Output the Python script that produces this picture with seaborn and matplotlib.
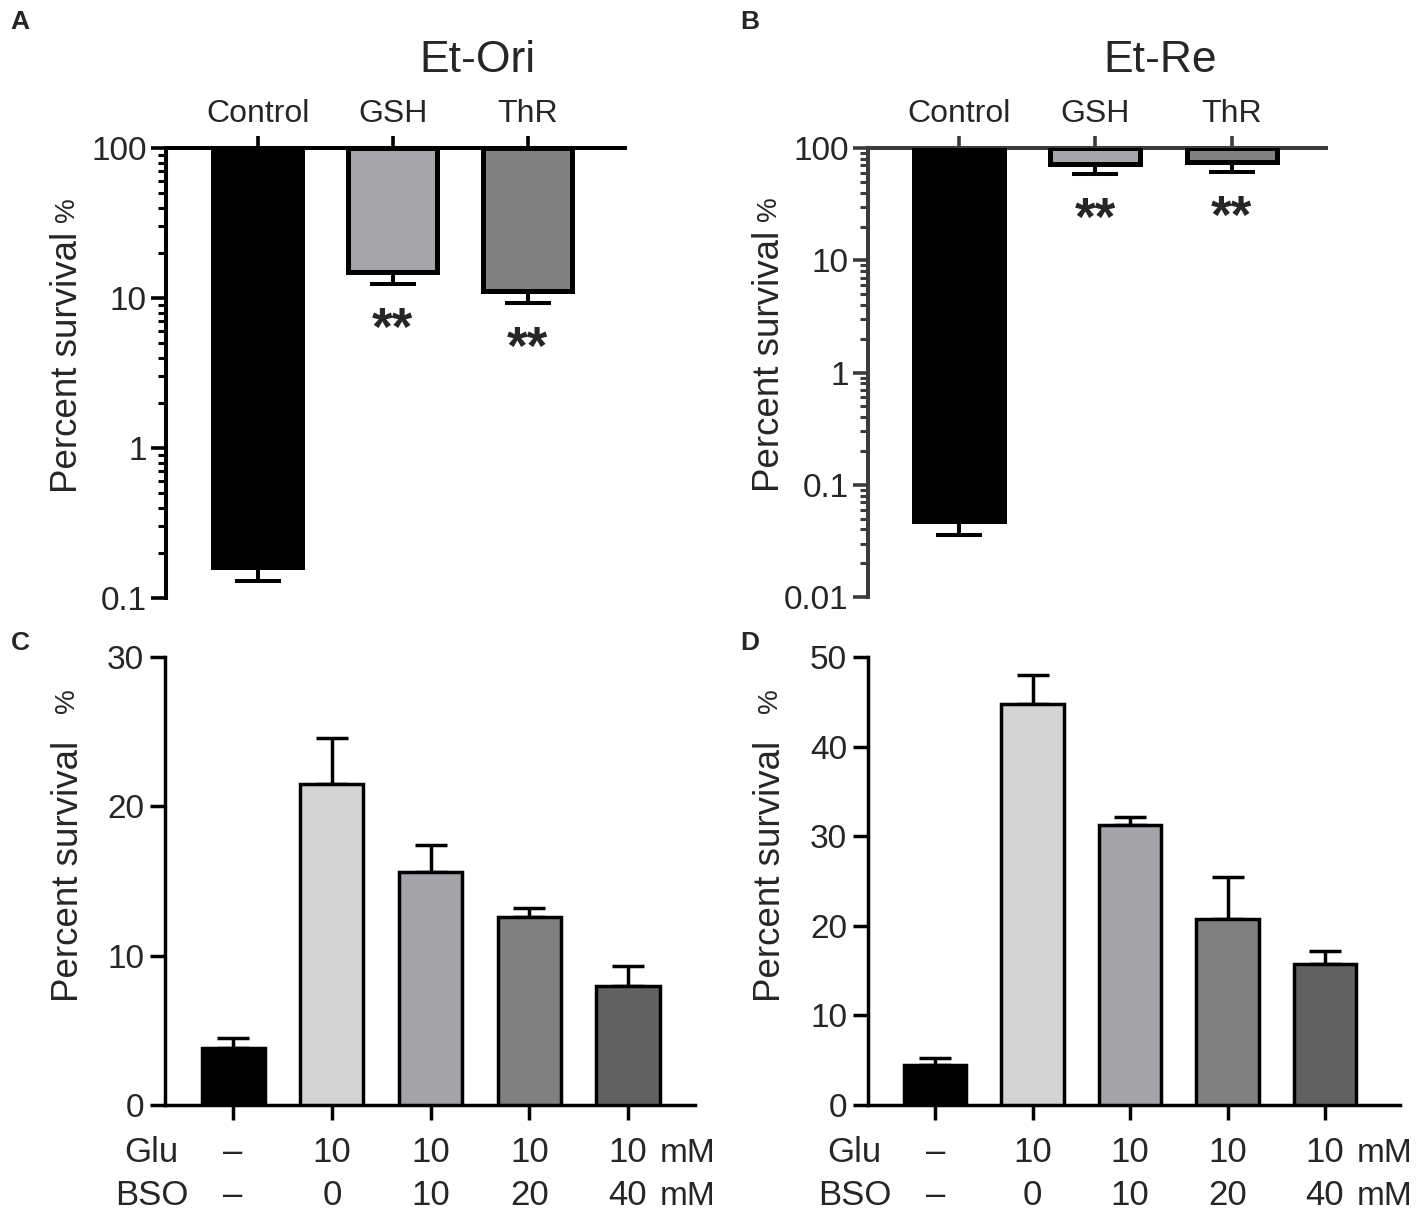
import numpy as np
import pandas as pd
import matplotlib
matplotlib.use("Agg")
import matplotlib.pyplot as plt
import seaborn as sns
from matplotlib.ticker import FixedLocator, NullFormatter, LogLocator
from matplotlib.transforms import blended_transform_factory

# ---- data ----
top_groups = ["Control", "GSH", "ThR"]
ori_mean = [0.16, 14.8, 11.2]
ori_low = [0.13, 12.4, 9.3]
re_mean = [0.048, 72.0, 75.0]
re_low = [0.036, 59.0, 61.0]
top_colors = ["#000000", "#a4a4a9", "#808080"]

glu = ["–", "10", "10", "10", "10"]
bso = ["–", "0", "10", "20", "40"]
c_mean = [3.8, 21.5, 15.6, 12.6, 8.0]
c_high = [4.5, 24.6, 17.4, 13.2, 9.3]
d_mean = [4.5, 44.8, 31.2, 20.8, 15.7]
d_high = [5.2, 48.0, 32.2, 25.4, 17.2]
bottom_colors = ["#000000", "#d4d4d4", "#a3a3a8", "#808080", "#616161"]

sns.set_style("ticks")
plt.rcParams["font.family"] = ["Liberation Sans", "DejaVu Sans"]

fig = plt.figure(figsize=(14.18, 12.21), dpi=100)


def add_ylabel(ax, x, y, gap):
    lab = ax.text(x, y, "Percent survival", rotation=90, ha="center", va="center",
                  fontsize=26.5, transform=ax.transAxes)
    ax.annotate("%", xy=(1, 1), xycoords=lab, xytext=(-4, gap), textcoords="offset points",
                rotation=90, ha="right", va="bottom", fontsize=20)


def log_panel(rect, mean, low, ylim, majors, major_labels, axis_color, xlim):
    ax = fig.add_axes(rect)
    df = pd.DataFrame({"group": top_groups, "drop": np.array(mean) - 100})
    # bars hang down from the 100 % line
    sns.barplot(data=df, x="group", y="drop", hue="group", palette=top_colors,
                legend=False, saturation=1, width=0.66, bottom=100,
                edgecolor="black", linewidth=3.6, errorbar=None, zorder=3, ax=ax)
    x = np.arange(len(top_groups))
    m = np.array(mean)
    ax.errorbar(x, m, yerr=[m - np.array(low), np.zeros_like(m)], fmt="none",
                ecolor="black", elinewidth=2.9, capsize=16.5, capthick=2.9, zorder=2)
    ax.set_yscale("log")
    ax.set_ylim(*ylim)
    ax.set_xlim(*xlim)
    ax.yaxis.set_major_locator(FixedLocator(majors))
    ax.set_yticklabels(major_labels)
    ax.yaxis.set_minor_locator(LogLocator(base=10, subs=np.arange(2, 10)))
    ax.yaxis.set_minor_formatter(NullFormatter())
    ax.xaxis.tick_top()
    ax.set_xticks(x)
    ax.set_xticklabels(top_groups)
    ax.set_xlabel("")
    ax.set_ylabel("")
    for side in ["right", "bottom"]:
        ax.spines[side].set_visible(False)
    for side in ["left", "top"]:
        ax.spines[side].set_linewidth(2.9)
        ax.spines[side].set_color(axis_color)
    ax.tick_params(axis="y", which="major", length=11, width=2.6, color=axis_color,
                   labelsize=24, pad=3, direction="out")
    ax.tick_params(axis="y", which="minor", length=6, width=2.2, color=axis_color,
                   direction="out")
    ax.tick_params(axis="x", which="major", length=8.5, width=2.6, color=axis_color,
                   labelsize=23, pad=5, direction="out")
    # significance marks under the treated bars
    for i in (1, 2):
        ax.annotate("**", xy=(i, low[i]), xytext=(0, -44), textcoords="offset points",
                    ha="center", va="baseline", fontsize=38, fontweight="bold")
    add_ylabel(ax, -0.214, 0.524, 7)
    return ax


def linear_panel(rect, mean, high, ymax, step, xlim, mm_x, gap):
    ax = fig.add_axes(rect)
    labels = [f"{g}\n{b}" for g, b in zip(glu, bso)]
    df = pd.DataFrame({"cond": labels, "val": mean})
    sns.barplot(data=df, x="cond", y="val", hue="cond", palette=bottom_colors,
                legend=False, saturation=1, width=0.64, edgecolor="black",
                linewidth=2.5, errorbar=None, zorder=3, ax=ax)
    x = np.arange(len(labels))
    m = np.array(mean)
    ax.errorbar(x, m, yerr=[np.zeros_like(m), np.array(high) - m], fmt="none",
                ecolor="black", elinewidth=2.5, capsize=11.5, capthick=2.5, zorder=2)
    ax.set_ylim(0, ymax)
    ax.set_xlim(*xlim)
    ax.set_yticks(np.arange(0, ymax + 1, step))
    ax.set_xticks(x)
    ax.set_xticklabels([])
    ax.set_xlabel("")
    ax.set_ylabel("")
    for side in ["right", "top"]:
        ax.spines[side].set_visible(False)
    for side in ["left", "bottom"]:
        ax.spines[side].set_linewidth(2.5)
        ax.spines[side].set_color("black")
    ax.tick_params(axis="both", length=11, width=2.5, color="black", direction="out")
    ax.tick_params(axis="y", labelsize=24, pad=4)
    # two rows of treatment labels under the bars
    tr = blended_transform_factory(ax.transData, ax.transAxes)
    for i in x:
        ax.text(i, -0.127, glu[i], transform=tr, ha="center", va="baseline", fontsize=25)
        ax.text(i, -0.223, bso[i], transform=tr, ha="center", va="baseline", fontsize=25)
    ax.text(-0.025, -0.127, "Glu", transform=ax.transAxes, ha="center", va="baseline", fontsize=25)
    ax.text(-0.025, -0.223, "BSO", transform=ax.transAxes, ha="center", va="baseline", fontsize=25)
    ax.text(mm_x, -0.127, "mM", transform=ax.transAxes, ha="left", va="baseline", fontsize=24)
    ax.text(mm_x, -0.223, "mM", transform=ax.transAxes, ha="left", va="baseline", fontsize=24)
    add_ylabel(ax, -0.183, 0.522, gap)
    return ax


log_panel([0.1171, 0.5102, 0.3237, 0.3686], ori_mean, ori_low, (0.1, 100),
          [0.1, 1, 10, 100], ["0.1", "1", "10", "100"], "black", (-0.68, 2.72))
log_panel([0.6121, 0.5110, 0.3230, 0.3677], re_mean, re_low, (0.01, 100),
          [0.01, 0.1, 1, 10, 100], ["0.01", "0.1", "1", "10", "100"], "#3c3c3c",
          (-0.667, 2.69))
linear_panel([0.1164, 0.0950, 0.3738, 0.3669], c_mean, c_high, 30, 10, (-0.69, 4.68), 0.934, 20)
linear_panel([0.6121, 0.0950, 0.3752, 0.3669], d_mean, d_high, 50, 10, (-0.69, 4.77), 0.919, 20)

fig.text(477 / 1418, 1 - 60 / 1221, "Et-Ori", ha="center", va="center", fontsize=32)
fig.text(1160 / 1418, 1 - 60 / 1221, "Et-Re", ha="center", va="center", fontsize=32)
for letter, px, py in [("A", 20, 22), ("B", 750, 22), ("C", 20, 643), ("D", 750, 643)]:
    fig.text(px / 1418, 1 - py / 1221, letter, ha="center", va="center",
             fontsize=19, fontweight="bold")

fig.savefig("out.png", dpi=100)
